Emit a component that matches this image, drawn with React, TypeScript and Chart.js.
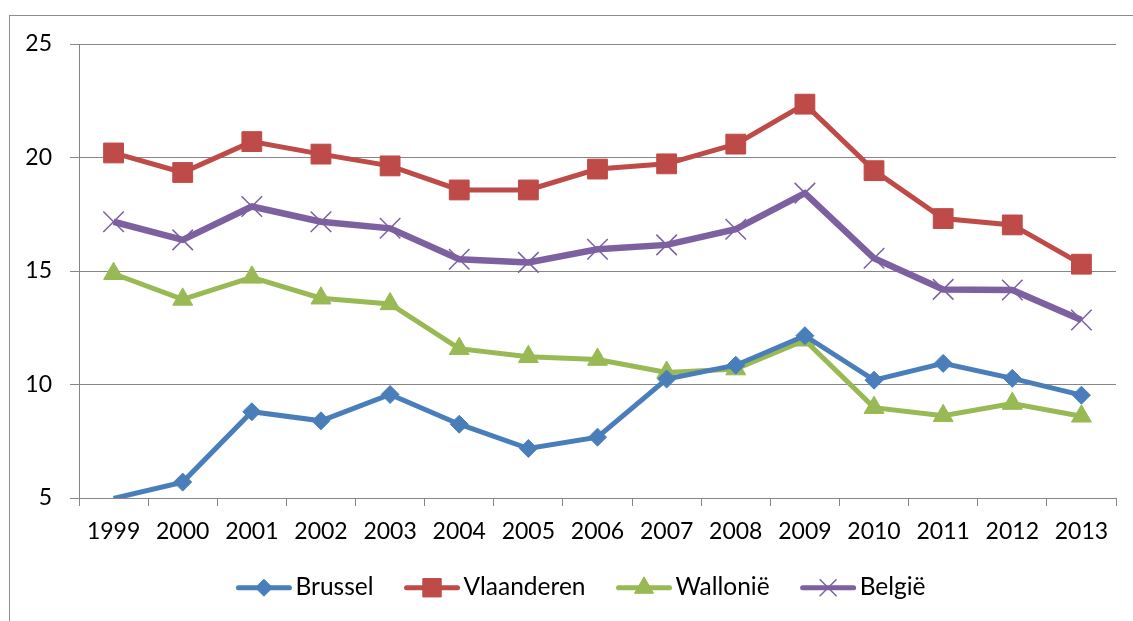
import React, { useEffect, useRef } from 'react';
import { Chart, registerables } from 'chart.js';
import { drawPoint } from 'chart.js/helpers';

Chart.register(...registerables);

const years = ['1999', '2000', '2001', '2002', '2003', '2004', '2005', '2006', '2007', '2008', '2009', '2010', '2011', '2012', '2013'];
const brussel = [4.98, 5.7, 8.8, 8.4, 9.56, 8.25, 7.18, 7.68, 10.24, 10.85, 12.15, 10.19, 10.93, 10.27, 9.53];
const vlaanderen = [20.2, 19.34, 20.7, 20.15, 19.63, 18.57, 18.57, 19.49, 19.72, 20.59, 22.35, 19.42, 17.31, 17.03, 15.3];
const wallonie = [14.88, 13.75, 14.72, 13.8, 13.55, 11.58, 11.22, 11.1, 10.53, 10.68, 11.95, 8.98, 8.62, 9.16, 8.6];
const belgie = [17.17, 16.37, 17.84, 17.17, 16.88, 15.52, 15.38, 15.96, 16.15, 16.84, 18.43, 15.56, 14.19, 14.16, 12.84];

const yTicks = { min: 5, max: 25, step: 5 };

const FONT = 'Lato';
const TICK_SIZE = 23;
const LEGEND_SIZE = 24.5;
const GRID = '#868686';
const LEGEND_LINE = 55;

function series(label: string, data: number[], color: string, style: string, radius: number, legendRadius: number, width: number, pbw: number) {
  return {
    label,
    data,
    borderColor: color,
    backgroundColor: color,
    borderWidth: width,
    pointStyle: style,
    pointRadius: (c: any) => (c.raw < yTicks.min ? 0 : radius),
    legendRadius,
    pointBackgroundColor: color,
    pointBorderColor: color,
    pointBorderWidth: pbw,
    tension: 0,
    fill: false,
  } as any;
}

const legendShift = {
  id: 'legendShift',
  afterLayout(chart: any) {
    if (chart.legend) {
      chart.legend.left = 46;
    }
  },
};

const legendMarks = {
  id: 'legendMarks',
  afterDraw(chart: any) {
    const legend = chart.legend;
    if (!legend || !legend.legendHitBoxes) return;
    const ctx = chart.ctx;
    legend.legendHitBoxes.forEach((hb: any, i: number) => {
      const ds = chart.data.datasets[i];
      const cy = hb.top + hb.height / 2 + 1;
      const x0 = hb.left + 2;
      const x1 = hb.left + LEGEND_LINE - 2;
      ctx.save();
      ctx.strokeStyle = ds.borderColor;
      ctx.lineWidth = 5;
      ctx.lineCap = 'round';
      ctx.beginPath();
      ctx.moveTo(x0, cy);
      ctx.lineTo(x1, cy);
      ctx.stroke();
      ctx.fillStyle = ds.pointBackgroundColor;
      ctx.strokeStyle = ds.pointBorderColor;
      ctx.lineWidth = ds.pointBorderWidth;
      ctx.lineCap = 'butt';
      drawPoint(ctx, { pointStyle: ds.pointStyle, radius: ds.legendRadius, rotation: 0, borderWidth: ds.pointBorderWidth } as any, hb.left + LEGEND_LINE / 2, cy);
      ctx.restore();
    });
  },
};

export default function App() {
  const ref = useRef<HTMLCanvasElement>(null);
  useEffect(() => {
    const chart = new Chart(ref.current as HTMLCanvasElement, {
      type: 'line',
      data: {
        labels: years,
        datasets: [
          series('Brussel', brussel, '#4A7EBB', 'rectRot', 9, 8.5, 5, 1),
          series('Vlaanderen', vlaanderen, '#BE4B48', 'rect', 14, 13, 5, 1),
          series('Wallonië', wallonie, '#98B954', 'triangle', 11.5, 11, 5, 1),
          series('België', belgie, '#7D60A0', 'crossRot', 14.5, 12, 6.5, 1.5),
        ],
      },
      options: {
        responsive: false,
        animation: false,
        events: [],
        layout: { padding: { left: 0, right: 17, top: 44, bottom: 12 } },
        plugins: {
          tooltip: { enabled: false },
          legend: {
            display: true,
            position: 'bottom',
            labels: {
              color: '#000',
              font: { family: FONT, size: LEGEND_SIZE },
              boxWidth: 59 - LEGEND_SIZE / 2,
              boxHeight: 22,
              padding: 31,
              generateLabels: (c: any) =>
                (Chart.defaults.plugins.legend.labels.generateLabels as any)(c).map((l: any) => ({
                  ...l,
                  fillStyle: 'rgba(0,0,0,0)',
                  strokeStyle: 'rgba(0,0,0,0)',
                  lineWidth: 0,
                })),
            },
          },
        },
        scales: {
          x: {
            type: 'category',
            offset: true,
            grid: { offset: true, drawOnChartArea: false, drawTicks: true, tickLength: 8, color: GRID },
            border: { color: GRID, width: 1 },
            ticks: { color: '#000', font: { family: FONT, size: TICK_SIZE }, padding: 12, maxRotation: 0, autoSkip: false },
            afterFit: (s: any) => { s.height = 45.5; },
          },
          y: {
            min: yTicks.min,
            max: yTicks.max,
            grid: { color: GRID, lineWidth: 1, tickLength: 9, drawTicks: true },
            border: { color: GRID, width: 1 },
            ticks: { stepSize: yTicks.step, color: '#000', font: { family: FONT, size: TICK_SIZE }, padding: 18 },
            afterFit: (s: any) => { s.width = 79; },
          },
        },
      } as any,
      plugins: [legendShift, legendMarks],
    });
    return () => chart.destroy();
  }, []);
  return (
    <>
      <div
        style={{
          position: 'fixed',
          left: 9,
          top: 15,
          width: 1124,
          height: 606,
          borderLeft: '1px solid #8c8c8c',
          borderTop: '1px solid #8c8c8c',
          boxSizing: 'border-box',
        }}
      />
      <canvas ref={ref} width={1133} height={621} style={{ position: 'fixed', left: 0, top: 0, width: 1133, height: 621 }} />
    </>
  );
}
